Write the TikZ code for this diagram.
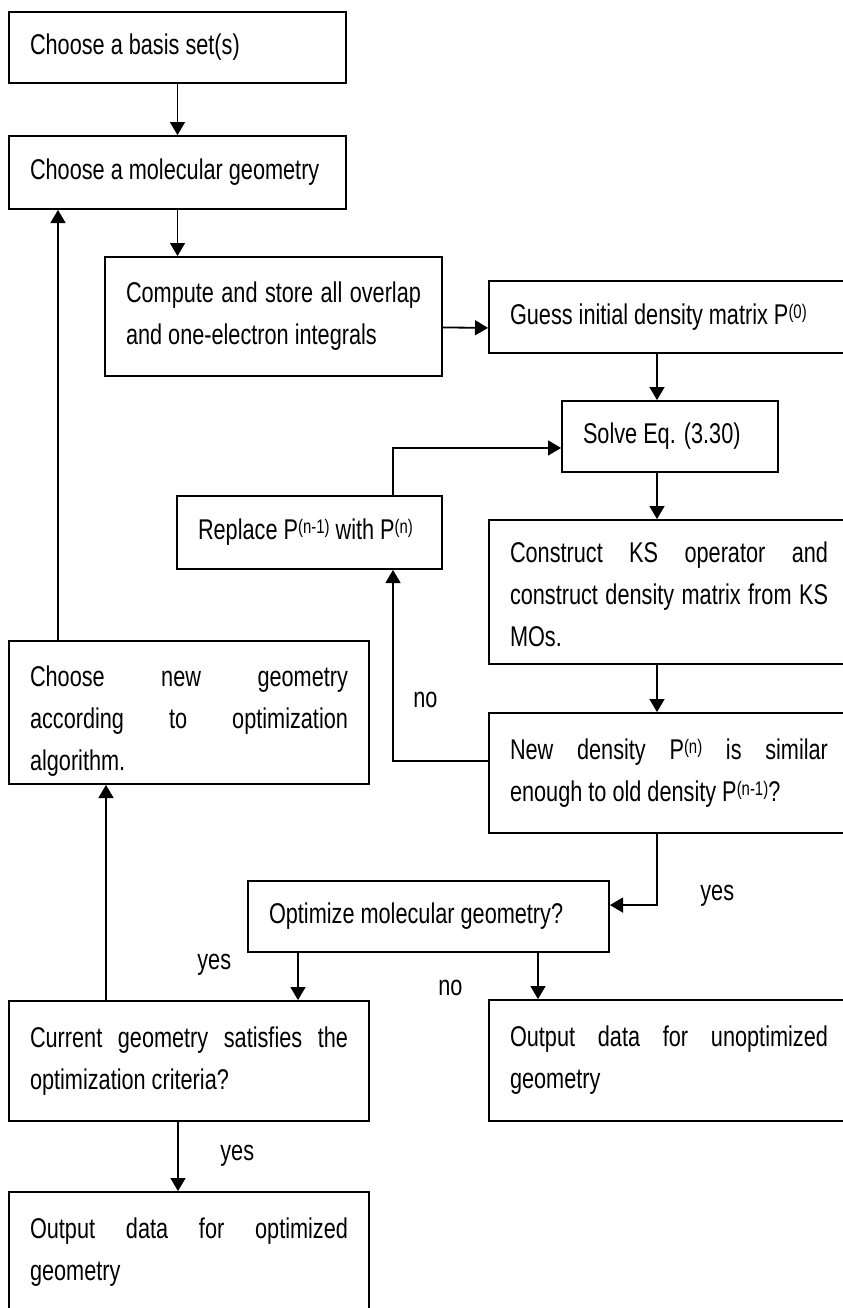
\documentclass[tikz,border=0pt]{standalone}
\usepackage{fontspec}
\setmainfont{Liberation Sans}[FakeStretch=0.76]
\usetikzlibrary{arrows.meta}

\newcommand{\upidx}[1]{\raisebox{3.3pt}{\fontsize{10.8}{10.8}\selectfont #1}}

\begin{document}
\begin{tikzpicture}[
  x=0.55pt, y=-0.55pt,
  every node/.style={font=\fontsize{15.7}{23.1}\selectfont},
  block/.style={draw, line width=1pt, inner xsep=11.55pt, inner ysep=0pt, align=justify},
  lbl/.style={inner sep=0pt, anchor=west},
  flow/.style={line width=1pt, -{Triangle[length=7.2pt, width=8.2pt]}}
]
\useasboundingbox (0,0) rectangle (843,1308);
\clip (0,0) rectangle (843,1308);

% boxes
\node[block, text width=162.25pt, minimum height=39.05pt] (basis) at (177.5,47.5) {Choose a basis set(s)};
\node[block, text width=162.25pt, minimum height=40.15pt] (molgeo) at (177.5,172.5) {Choose a molecular geometry};
\node[block, text width=162.25pt, minimum height=65.45pt] (integ) at (273.5,316.5) {Compute and store all overlap\linebreak and one-electron integrals};
\node[block, text width=174.9pt, minimum height=39.6pt] (guess) at (669,317) {Guess initial density matrix P\upidx{(0)}};
\node[block, text width=95.7pt, minimum height=39.05pt] (solve) at (670,436.5) {Solve Eq. (3.30)};
\node[block, text width=122.65pt, minimum height=40.15pt] (replace) at (309.5,532.5) {Replace P\upidx{(n-1)} with P\upidx{(n)}};
\node[block, text width=174.9pt, minimum height=79.2pt] (ksop) at (669,592) {\rule{0pt}{14.3pt}Construct KS operator and\linebreak construct density matrix from KS\linebreak MOs.};
\node[block, text width=174.9pt, minimum height=78.65pt] (newgeo) at (189,712.5) {\rule{0pt}{20.3pt}Choose new geometry\linebreak according to optimization\linebreak algorithm.};
\node[block, text width=174.9pt, minimum height=66pt] (similar) at (669,773) {New density P\upidx{(n)} is similar\linebreak enough to old density P\upidx{(n-1)}?};
\node[block, text width=175.45pt, minimum height=39.05pt] (optq) at (428.5,916.5) {Optimize molecular geometry?};
\node[block, text width=174.9pt, minimum height=66pt] (criteria) at (189,1061) {Current geometry satisfies the\linebreak optimization criteria?};
\node[block, text width=174.9pt, minimum height=66.55pt] (unopt) at (669,1060.5) {Output data for unoptimized\linebreak geometry};
\node[block, text width=174.9pt, minimum height=66pt] (opt) at (189,1252) {Output data for optimized\linebreak geometry};

% labels
\node[lbl] (no1) at (413,700) {no};
\node[lbl] (yes1) at (700,896) {yes};
\node[lbl] (yes2) at (197,965) {yes};
\node[lbl] (no2) at (438,988) {no};
\node[lbl] (yes3) at (220,1156) {yes};

% vertical lanes
\coordinate (spine) at (657,0);
\coordinate (loopx) at (393,0);
\coordinate (backx) at (58,0);
\coordinate (upx) at (106,0);
\coordinate (yesx) at (298,0);
\coordinate (nox) at (538,0);
\coordinate (endx) at (178,0);

\draw[flow] (basis) -- (molgeo);
\draw[flow] (molgeo.south) -- (molgeo.south |- integ.north);
\draw[flow] ([yshift=-6pt]integ.east) -- ([yshift=-6pt]guess.west);
\draw[flow] (guess.south -| spine) -- (solve.north -| spine);
\draw[flow] (solve.south -| spine) -- (ksop.north -| spine);
\draw[flow] (ksop.south -| spine) -- (similar.north -| spine);
\draw[flow] (similar.south -| spine) |- ([yshift=6.3pt]optq.east);
\draw[flow] ([yshift=6.6pt]similar.west) -| (replace.south -| loopx);
\draw[flow] (replace.north -| loopx) |- ([yshift=-6.3pt]solve.west);
\draw[flow] (optq.south -| yesx) -- (criteria.north -| yesx);
\draw[flow] (optq.south -| nox) -- (unopt.north -| nox);
\draw[flow] (criteria.north -| upx) -- (newgeo.south -| upx);
\draw[flow] (newgeo.north -| backx) -- (molgeo.south -| backx);
\draw[flow] (criteria.south -| endx) -- (opt.north -| endx);

\end{tikzpicture}
\end{document}
